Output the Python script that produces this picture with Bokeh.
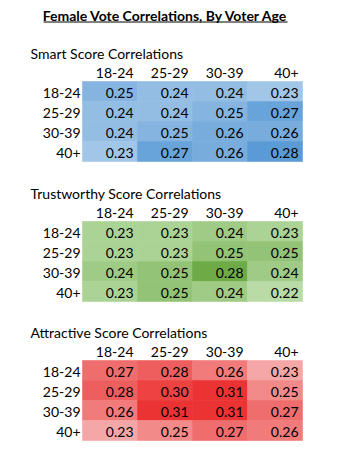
from bokeh.plotting import figure
from bokeh.models import Range1d, ColumnDataSource, LinearColorMapper
from bokeh.core.properties import value
from bokeh.embed import file_html
from bokeh.resources import INLINE

chart_title = "Female Vote Correlations, By Voter Age"
ages = ["18-24", "25-29", "30-39", "40+"]

smart_title = "Smart Score Correlations"
smart = [[0.25, 0.24, 0.24, 0.23],
         [0.24, 0.24, 0.25, 0.27],
         [0.24, 0.25, 0.26, 0.26],
         [0.23, 0.27, 0.26, 0.28]]

trust_title = "Trustworthy Score Correlations"
trust = [[0.23, 0.23, 0.24, 0.23],
         [0.23, 0.23, 0.25, 0.25],
         [0.24, 0.25, 0.28, 0.24],
         [0.23, 0.25, 0.24, 0.22]]

attr_title = "Attractive Score Correlations"
attr = [[0.27, 0.28, 0.26, 0.23],
        [0.28, 0.30, 0.31, 0.25],
        [0.26, 0.31, 0.31, 0.27],
        [0.23, 0.25, 0.27, 0.26]]

W, H = 340, 453
FONT = "Lato"
FS = "14px"

def hex2rgb(h):
    h = h.lstrip("#")
    return tuple(int(h[i:i + 2], 16) for i in (0, 2, 4))

def ramp(c0, c1, n=256):
    a, b = hex2rgb(c0), hex2rgb(c1)
    out = []
    for k in range(n):
        t = k / (n - 1)
        out.append("#%02x%02x%02x" % tuple(round(a[i] + (b[i] - a[i]) * t) for i in range(3)))
    return out

p = figure(width=W, height=H, x_range=Range1d(0, W), y_range=Range1d(H, 0),
           output_backend="svg", toolbar_location=None, min_border=0,
           background_fill_color="white", border_fill_color="white")
p.axis.visible = False
p.grid.visible = False
p.outline_line_color = None

# main title with underline
cx = 165
p.text(x=[cx], y=[15], text=[chart_title], text_align="center", text_baseline="middle",
       text_font=value(FONT), text_font_size="14px", text_font_style="bold", text_color="black")
p.segment(x0=[cx - 122], y0=[21.5], x1=[cx + 122], y1=[21.5], line_color="black", line_width=1)

X0 = 82
CW, RH = 55, 20
blocks = [
    (smart_title, smart, 81, "#a2c6e8", "#5a9ad5"),
    (trust_title, trust, 221, "#b9dba6", "#6dab46"),
    (attr_title, attr, 360, "#f5a7a7", "#eb3333"),
]

for title, data, top, c0, c1 in blocks:
    vals = [v for row in data for v in row]
    mapper = LinearColorMapper(palette=ramp(c0, c1), low=min(vals), high=max(vals))
    xs, ys, vs, tx, ty, tt = [], [], [], [], [], []
    for i, row in enumerate(data):
        for j, v in enumerate(row):
            xs.append(X0 + CW * (j + 0.5))
            ys.append(top + RH * (i + 0.5))
            vs.append(v)
            tx.append(X0 + CW * (j + 1) - 4)
            ty.append(top + RH * i + 11.5)
            tt.append("%.2f" % v)
    src = ColumnDataSource(dict(x=xs, y=ys, v=vs))
    p.rect(x="x", y="y", width=CW, height=RH, source=src,
           fill_color={"field": "v", "transform": mapper},
           line_color={"field": "v", "transform": mapper}, line_width=0.6)
    p.text(x=tx, y=ty, text=tt, text_align="right", text_baseline="middle",
           text_font=value(FONT), text_font_size=FS, text_color="black")
    # section title
    p.text(x=[30], y=[top - 28.5], text=[title], text_align="left", text_baseline="middle",
           text_font=value(FONT), text_font_size=FS, text_color="black")
    # column headers
    p.text(x=[X0 + CW * (j + 1) - 4 for j in range(len(ages))], y=[top - 8.5] * len(ages),
           text=ages, text_align="right", text_baseline="middle",
           text_font=value(FONT), text_font_size=FS, text_color="black")
    # row labels
    p.text(x=[X0 - 2] * len(ages), y=[top + RH * i + 11.5 for i in range(len(ages))],
           text=ages, text_align="right", text_baseline="middle",
           text_font=value(FONT), text_font_size=FS, text_color="black")

open("out.html", "w").write(file_html(p, INLINE))
